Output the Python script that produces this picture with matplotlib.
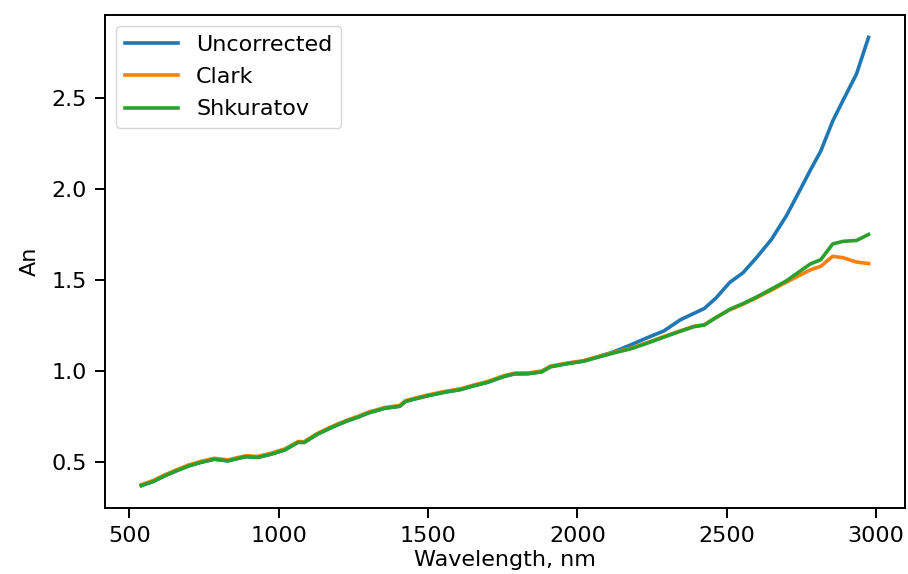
import numpy as np
import matplotlib
matplotlib.use("Agg")
import matplotlib.pyplot as plt

# wavelengths (nm) and the three spectra
wavelength = [540, 580, 620, 660, 700, 740, 785, 830, 860, 890, 930, 975, 1020,
              1065, 1085, 1130, 1175, 1200, 1230, 1265, 1300, 1355, 1405, 1425,
              1460, 1500, 1555, 1610, 1645, 1700, 1755, 1790, 1835, 1880, 1910,
              1965, 2020, 2070, 2120, 2180, 2235, 2290, 2345, 2390, 2425, 2465,
              2510, 2555, 2600, 2650, 2700, 2750, 2780, 2815, 2855, 2890, 2935, 2975]

shkuratov = [0.372, 0.395, 0.427, 0.455, 0.481, 0.500, 0.517, 0.508, 0.520, 0.531,
             0.527, 0.545, 0.568, 0.610, 0.609, 0.655, 0.690, 0.708, 0.728, 0.748,
             0.771, 0.797, 0.808, 0.835, 0.850, 0.866, 0.885, 0.900, 0.917, 0.940,
             0.972, 0.986, 0.987, 0.997, 1.025, 1.042, 1.055, 1.078, 1.100, 1.124,
             1.155, 1.188, 1.220, 1.245, 1.254, 1.296, 1.340, 1.372, 1.408, 1.452,
             1.497, 1.555, 1.590, 1.613, 1.700, 1.714, 1.719, 1.752]

clark = [0.377, 0.400, 0.432, 0.460, 0.486, 0.505, 0.522, 0.513, 0.525, 0.536,
         0.532, 0.550, 0.573, 0.614, 0.613, 0.659, 0.694, 0.712, 0.732, 0.752,
         0.775, 0.801, 0.812, 0.839, 0.854, 0.870, 0.889, 0.904, 0.921, 0.944,
         0.976, 0.990, 0.991, 1.001, 1.028, 1.045, 1.058, 1.081, 1.103, 1.127,
         1.158, 1.191, 1.222, 1.247, 1.256, 1.296, 1.338, 1.369, 1.404, 1.446,
         1.490, 1.532, 1.557, 1.577, 1.632, 1.624, 1.600, 1.592]

uncorrected = [0.372, 0.395, 0.427, 0.455, 0.481, 0.500, 0.517, 0.508, 0.520, 0.531,
               0.527, 0.545, 0.568, 0.610, 0.609, 0.655, 0.690, 0.708, 0.728, 0.748,
               0.771, 0.797, 0.808, 0.835, 0.850, 0.866, 0.885, 0.900, 0.917, 0.940,
               0.972, 0.986, 0.987, 0.997, 1.025, 1.042, 1.056, 1.080, 1.106, 1.146,
               1.185, 1.222, 1.283, 1.318, 1.345, 1.404, 1.488, 1.542, 1.625, 1.725,
               1.855, 2.010, 2.105, 2.210, 2.375, 2.490, 2.635, 2.835]

plt.rcParams['font.size'] = 16

fig = plt.figure(figsize=(9.08, 5.74), dpi=100)
ax = fig.add_axes([0.1156, 0.115, 0.881, 0.859])

ax.plot(wavelength, uncorrected, color="tab:blue", linewidth=2.6, label="Uncorrected")
ax.plot(wavelength, clark, color="tab:orange", linewidth=2.6, label="Clark")
ax.plot(wavelength, shkuratov, color="tab:green", linewidth=2.6, label="Shkuratov")

ax.set_xlabel("Wavelength, nm", labelpad=3)
ax.set_ylabel("An", labelpad=8)
ax.set_xticks([500, 1000, 1500, 2000, 2500, 3000])
ax.set_yticks([0.5, 1.0, 1.5, 2.0, 2.5])
ax.tick_params(length=7, width=1.4, pad=6)
for s in ax.spines.values():
    s.set_linewidth(1.4)

ax.legend(loc=2, handlelength=2.4, labelspacing=0.55)

fig.savefig("out.png", dpi=100)
